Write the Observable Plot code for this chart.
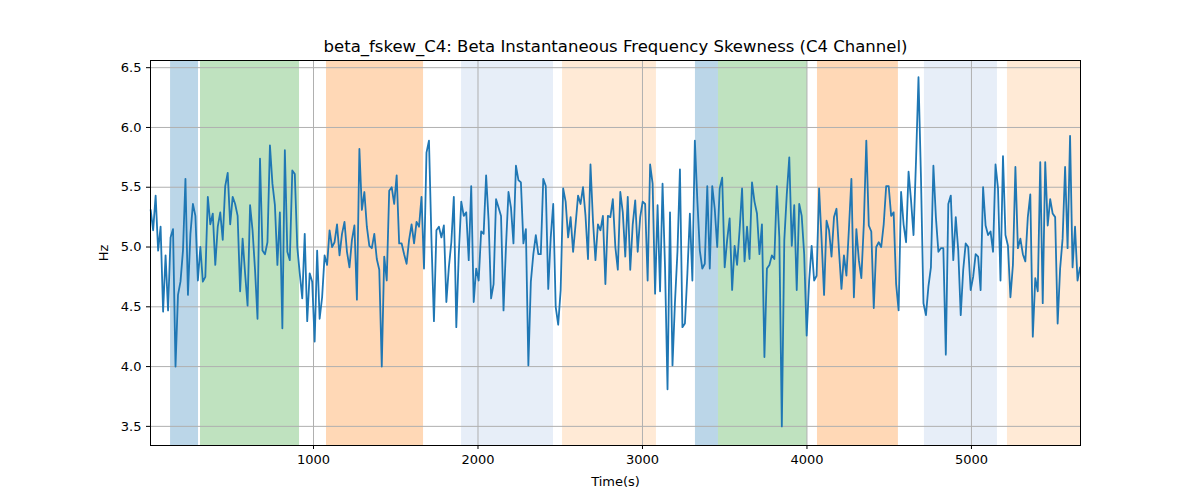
<!DOCTYPE html>
<html><head><meta charset="utf-8">
<script src="https://cdn.jsdelivr.net/npm/d3@7"></script>
<script src="https://cdn.jsdelivr.net/npm/@observablehq/plot@0.6"></script>
<style>body{margin:0;background:#fff;font-family:"DejaVu Sans",sans-serif}</style>
</head><body><div id="chart"></div>
<script>
const title = "beta_fskew_C4: Beta Instantaneous Frequency Skewness (C4 Channel)";
const tStart = 10, tEnd = 5660;
const values = [
5.31,5.14,5.43,4.97,5.17,4.46,4.93,4.47,5.08,5.15,4.0,4.6,4.71,4.97,5.57,4.6,5.11,5.36,5.26,4.72,5.0,4.71,4.75,5.42,5.19,5.28,4.85,5.17,5.29,5.06,5.51,5.62,5.19,5.42,5.36,5.26,4.63,5.07,4.78,4.51,5.35,5.14,4.81,4.4,5.74,4.97,4.94,5.04,5.85,5.53,5.35,4.85,5.29,4.32,5.81,4.96,4.89,5.64,5.61,5.0,4.78,4.57,5.11,4.38,4.78,4.71,4.21,4.97,4.4,4.58,4.93,4.85,5.14,5.0,5.04,5.19,4.93,5.11,5.21,4.96,4.83,5.06,5.18,4.56,5.82,5.31,5.46,5.17,5.01,4.99,5.11,4.9,4.81,4.0,
4.92,4.72,5.47,5.5,5.36,5.6,5.03,5.03,4.94,4.86,5.06,5.19,5.03,5.21,5.17,5.42,4.82,5.79,5.89,5.06,4.38,5.14,5.17,5.08,5.18,4.54,4.83,5.04,5.42,4.33,4.94,5.38,5.26,5.29,4.89,5.51,4.54,4.82,4.72,5.13,5.11,5.6,5.22,4.57,4.69,5.4,5.33,5.26,4.47,5.01,5.46,5.33,5.03,5.68,5.56,5.54,5.03,5.15,4.01,4.71,4.94,5.1,4.94,4.94,5.57,5.51,4.65,5.08,5.36,4.5,4.35,4.64,5.49,5.38,5.08,5.25,4.96,5.19,5.43,5.36,5.5,5.26,4.9,5.69,5.22,4.89,5.19,5.14,5.26,4.69,5.26,5.25,5.4,
5.0,4.81,5.46,5.29,4.92,5.42,4.81,5.19,5.39,4.96,5.25,5.38,5.36,4.72,5.69,5.53,4.61,5.35,4.63,5.53,4.83,3.81,5.29,4.01,4.54,4.96,5.65,4.33,4.36,4.78,5.28,4.72,5.89,5.39,4.97,4.82,4.86,5.51,4.82,5.51,5.32,5.0,5.49,5.58,4.83,5.06,5.24,4.64,5.01,4.85,5.14,5.49,4.88,5.17,4.9,5.54,5.38,5.28,4.94,5.19,4.08,4.82,4.85,4.93,4.9,5.51,5.08,3.5,5.06,5.44,5.75,5.01,5.35,4.64,5.36,5.26,4.94,4.26,4.72,5.01,4.72,4.76,5.49,5.06,4.6,5.22,5.14,4.92,5.25,5.32,4.97,4.65,4.93,
4.76,5.15,5.57,4.58,5.15,4.89,4.74,5.19,5.89,5.18,5.13,4.49,5.0,5.04,5.0,5.19,5.51,5.51,5.26,5.29,4.69,4.47,5.46,5.19,5.04,5.63,5.39,5.1,5.72,6.42,5.58,4.53,4.43,4.67,4.83,5.68,5.25,4.96,4.99,4.99,4.1,5.36,5.43,4.89,5.25,4.97,4.43,4.81,5.03,5.0,4.64,4.75,4.94,4.92,4.64,5.5,5.18,5.1,5.13,4.96,5.69,5.49,4.72,5.76,5.1,5.01,4.58,4.85,5.67,4.99,5.07,4.94,4.88,5.25,5.44,4.25,4.74,4.63,5.71,4.53,5.71,5.18,5.4,5.28,5.25,4.36,4.82,5.07,5.67,4.99,5.93,4.83,5.17,4.72,4.83
];
const bandStart = [131, 313, 1079, 1900, 2514, 3322, 3462, 4064, 4714, 5219];
const bandEnd   = [301, 915, 1669, 2459, 3085, 3462, 4003, 4556, 5158, 5663];
const bandColor = ["#1f77b4","#2ca02c","#ff7f0e","#aec7e8","#ffbb78","#1f77b4","#2ca02c","#ff7f0e","#aec7e8","#ffbb78"];
const yTicks = [3.5,4.0,4.5,5.0,5.5,6.0,6.5];
const xTicks = [1000,2000,3000,4000,5000];

const step = (tEnd - tStart) / (values.length - 1);
const data = values.map((v, i) => ({t: tStart + i * step, v}));
const bands = bandStart.map((s, i) => ({s, e: bandEnd[i], c: bandColor[i]}));

const chart = Plot.plot({
  width: 1200, height: 500,
  marginTop: 60, marginBottom: 55, marginLeft: 150, marginRight: 120,
  style: {fontFamily: "DejaVu Sans, sans-serif", fontSize: "13px", color: "#000"},
  x: {domain: [tStart - 1, tEnd + 3], ticks: xTicks, tickFormat: d => String(d), label: "Time(s)", labelAnchor: "center", labelArrow: "none", labelOffset: 40, tickSize: 4},
  y: {domain: [3.34, 6.56], ticks: yTicks, tickFormat: d => d.toFixed(1), label: "Hz", labelAnchor: "center", labelArrow: "none", labelOffset: 52, tickSize: 4},
  marks: [
    Plot.rectY(bands, {x1: "s", x2: "e", y1: 3.34, y2: 6.56, fill: "c", fillOpacity: 0.3}),
    Plot.gridX(xTicks, {stroke: "#b0b0b0", strokeOpacity: 1, strokeWidth: 1}),
    Plot.gridY(yTicks, {stroke: "#b0b0b0", strokeOpacity: 1, strokeWidth: 1}),
    Plot.line(data, {x: "t", y: "v", stroke: "#1f77b4", strokeWidth: 1.8}),
    Plot.frame({stroke: "#000"}),
    Plot.text([title], {frameAnchor: "top", dy: -9, lineAnchor: "bottom", fontSize: 16.5, fill: "#000"})
  ]
});
document.getElementById("chart").appendChild(chart);
</script></body></html>
